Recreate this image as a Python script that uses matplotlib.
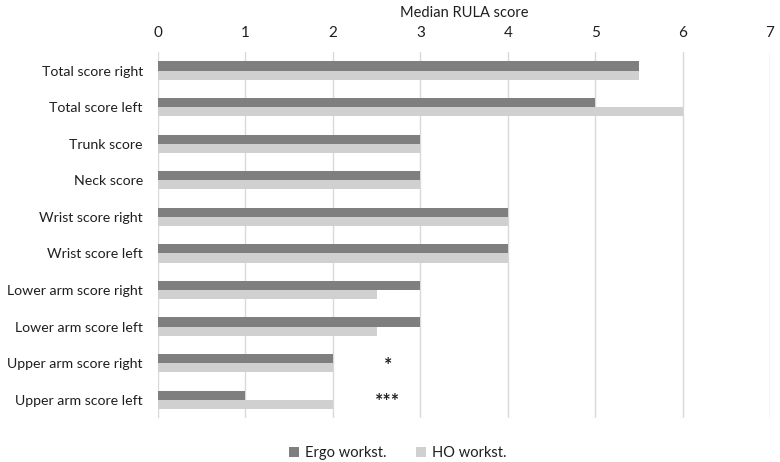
import numpy as np
import matplotlib.pyplot as plt

plt.rcParams['font.family'] = ['Lato', 'DejaVu Sans']

categories = ['Total score right', 'Total score left', 'Trunk score', 'Neck score',
              'Wrist score right', 'Wrist score left', 'Lower arm score right',
              'Lower arm score left', 'Upper arm score right', 'Upper arm score left']
ergo = [5.5, 5, 3, 3, 4, 4, 3, 3, 2, 1]
ho = [5.5, 6, 3, 3, 4, 4, 2.5, 2.5, 2, 2]
stars = ['', '', '', '', '', '', '', '', '*', '***']
star_x = 2.63

txt = '#1f1f1f'
fig = plt.figure(figsize=(7.8, 4.62), dpi=100)
ax = fig.add_axes([0.2026, 0.095, 0.7846, 0.792])

y = np.arange(len(categories))
h = 0.25
ax.barh(y - h / 2, ergo, height=h, color='#7f7f7f', label='Ergo workst.', zorder=3)
ax.barh(y + h / 2, ho, height=h, color='#d0d0d0', label='HO workst.', zorder=3)

for yi, s in zip(y, stars):
    if s:
        ax.text(star_x, yi + 0.05, s, ha='center', va='center', fontsize=14,
                fontweight='bold', color=txt)

ax.set_xlim(0, 7)
ax.set_ylim(len(categories) - 0.5, -0.5)
ax.set_yticks(y)
ax.set_yticklabels(categories)
ax.xaxis.tick_top()
ax.xaxis.set_label_position('top')
ax.set_xticks(range(8))
ax.set_xlabel('Median RULA score', fontsize=10.5, color=txt, labelpad=6)
ax.tick_params(axis='x', length=0, labelsize=11, labelcolor=txt, pad=9)
ax.tick_params(axis='y', length=0, labelsize=10.2, labelcolor=txt, pad=11)
ax.grid(axis='x', color='#d9d9d9', linewidth=1, zorder=0)
for sp in ax.spines.values():
    sp.set_visible(False)

fig.legend(loc='lower center', bbox_to_anchor=(0.51, -0.025), ncol=2, frameon=False,
           fontsize=10.5, handlelength=0.7, handleheight=0.7, columnspacing=2.0,
           handletextpad=0.4, labelcolor=txt)

plt.savefig('out.png', dpi=100)
